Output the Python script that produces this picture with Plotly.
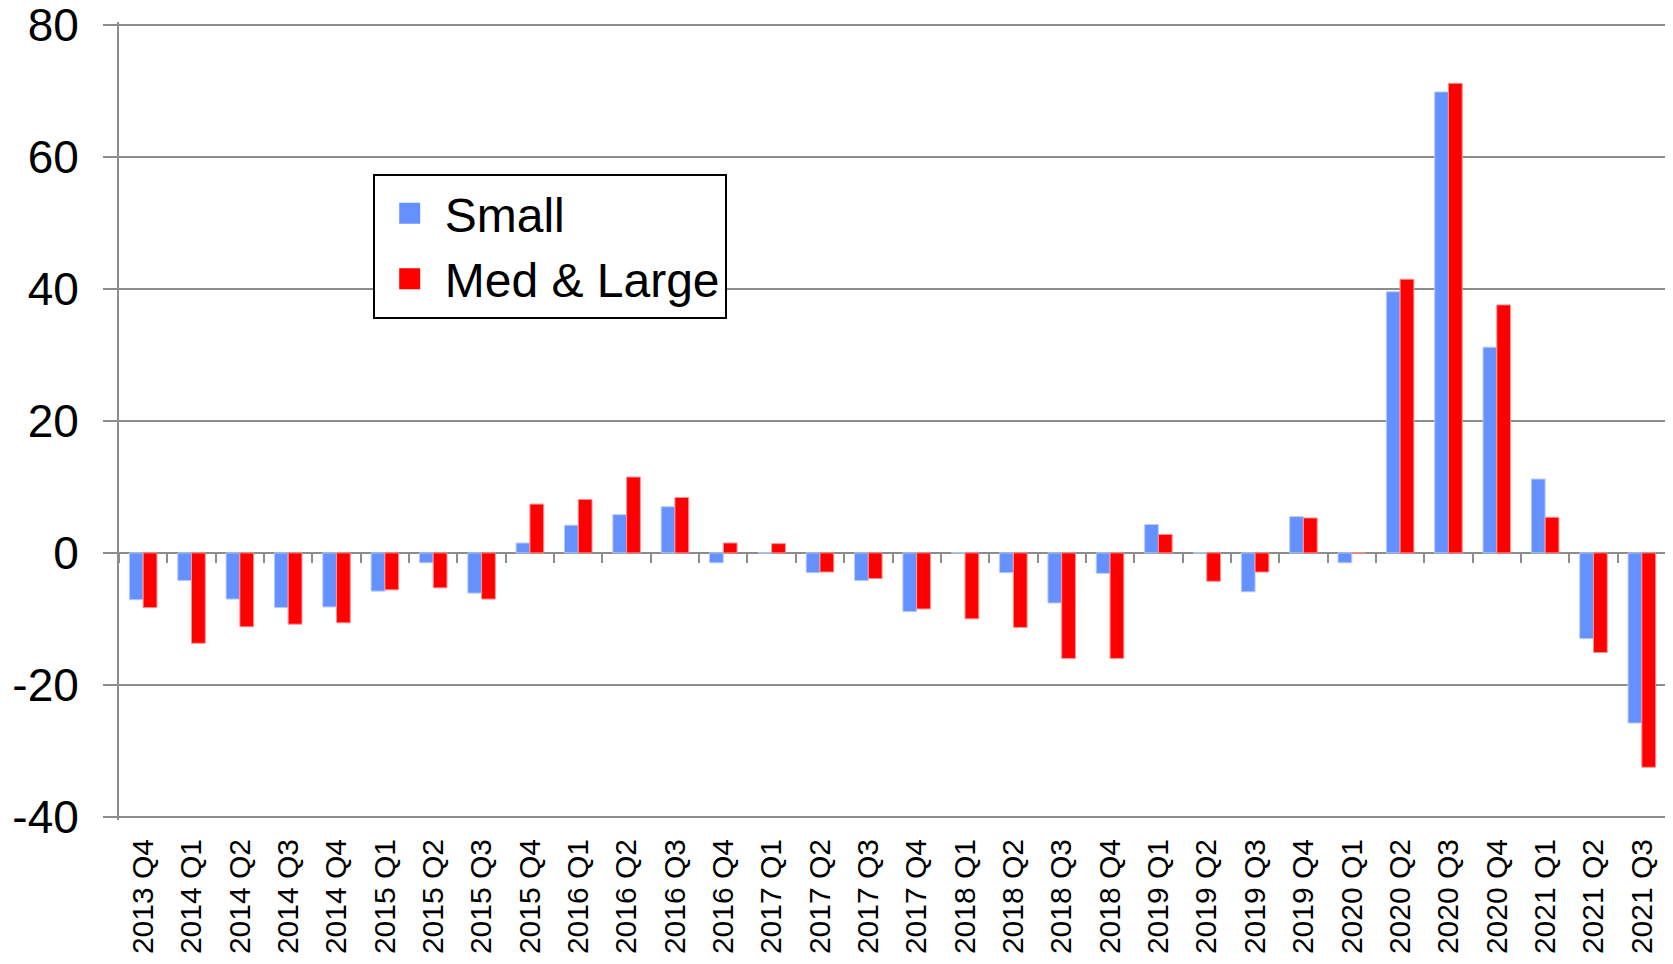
import plotly.graph_objects as go

# ----------------------------
# DATA
# ----------------------------
quarters = [
    "2013 Q4", "2014 Q1", "2014 Q2", "2014 Q3", "2014 Q4",
    "2015 Q1", "2015 Q2", "2015 Q3", "2015 Q4",
    "2016 Q1", "2016 Q2", "2016 Q3", "2016 Q4",
    "2017 Q1", "2017 Q2", "2017 Q3", "2017 Q4",
    "2018 Q1", "2018 Q2", "2018 Q3", "2018 Q4",
    "2019 Q1", "2019 Q2", "2019 Q3", "2019 Q4",
    "2020 Q1", "2020 Q2", "2020 Q3", "2020 Q4",
    "2021 Q1", "2021 Q2", "2021 Q3",
]

small = [
    -7.1, -4.2, -7.0, -8.3, -8.2,
    -5.8, -1.5, -6.1, 1.5,
    4.2, 5.8, 7.0, -1.5,
    0.0, -3.0, -4.2, -8.9,
    0.0, -3.0, -7.6, -3.1,
    4.3, 0.0, -5.9, 5.5,
    -1.5, 39.6, 69.9, 31.2,
    11.2, -13.0, -25.8,
]

med_large = [
    -8.3, -13.7, -11.2, -10.8, -10.6,
    -5.6, -5.3, -7.0, 7.4,
    8.1, 11.5, 8.4, 1.5,
    1.4, -2.9, -3.9, -8.5,
    -10.0, -11.3, -16.0, -16.0,
    2.8, -4.3, -2.9, 5.3,
    0.0, 41.5, 71.2, 37.6,
    5.4, -15.1, -32.5,
]

y_ticks = [-40, -20, 0, 20, 40, 60, 80]
y_labels = ["-40", "-20", "0", "20", "40", "60", "80"]

BLUE = "#6591FF"
RED = "#FF0000"
GREY = "#8C8C8C"
FONT = "Liberation Sans, Arial, sans-serif"

# y range padded a touch so the -40 / 80 gridlines are still drawn
Y_RANGE = [-40.5, 80.5]
zero_pos = (0 - Y_RANGE[0]) / (Y_RANGE[1] - Y_RANGE[0])

# ----------------------------
# FIGURE
# ----------------------------
fig = go.Figure()

fig.add_trace(go.Bar(
    x=quarters, y=small, name="Small",
    marker=dict(color=BLUE, line=dict(color="#B8CCFF", width=1)),
    showlegend=False,
))
fig.add_trace(go.Bar(
    x=quarters, y=med_large, name="Med & Large",
    marker=dict(color=RED, line=dict(color="#FF9090", width=1)),
    showlegend=False,
))

# legend entries (square swatches)
for name, col in [("Small", BLUE), ("Med & Large", RED)]:
    fig.add_trace(go.Scatter(
        x=[None], y=[None], mode="markers", name=name,
        marker=dict(symbol="square", size=16, color=col,
                    line=dict(color=col, width=5)),
    ))

# invisible trace to carry the category tick marks on the zero line
fig.add_trace(go.Scatter(
    x=quarters, y=small, xaxis="x2", mode="markers",
    marker=dict(opacity=0), hoverinfo="skip", showlegend=False,
))

fig.update_layout(
    width=1673,
    height=964,
    margin=dict(l=111, r=15, t=14, b=152),
    plot_bgcolor="white",
    paper_bgcolor="white",
    font=dict(family=FONT, color="black"),
    barmode="group",
    bargap=0.43,
    bargroupgap=0,
    xaxis=dict(
        type="category",
        range=[-0.5, 31.5],
        showgrid=False,
        showline=False,
        ticks="",
        tickangle=-90,
        tickfont=dict(size=30),
        ticklabelstandoff=12,
        automargin=False,
    ),
    xaxis2=dict(
        type="category",
        overlaying="x",
        anchor="free",
        position=zero_pos,
        range=[-0.5, 31.5],
        showgrid=False,
        showline=False,
        showticklabels=False,
        ticks="outside",
        tickson="boundaries",
        ticklen=9,
        tickwidth=2,
        tickcolor=GREY,
        automargin=False,
    ),
    yaxis=dict(
        range=Y_RANGE,
        tickmode="array",
        tickvals=y_ticks,
        ticktext=y_labels,
        showgrid=True,
        gridcolor=GREY,
        gridwidth=2,
        zeroline=True,
        zerolinecolor=GREY,
        zerolinewidth=2,
        showline=True,
        linecolor=GREY,
        linewidth=2,
        ticks="outside",
        ticklen=14,
        tickwidth=2,
        tickcolor=GREY,
        tickfont=dict(size=46),
        ticklabelstandoff=15,
        ticklabeloverflow="allow",
        automargin=False,
    ),
    legend=dict(
        x=0.164,
        y=0.81,
        xanchor="left",
        yanchor="top",
        bgcolor="white",
        bordercolor="black",
        borderwidth=2,
        font=dict(size=48),
        itemsizing="trace",
        itemwidth=60,
    ),
)

fig.write_html("out.html")
